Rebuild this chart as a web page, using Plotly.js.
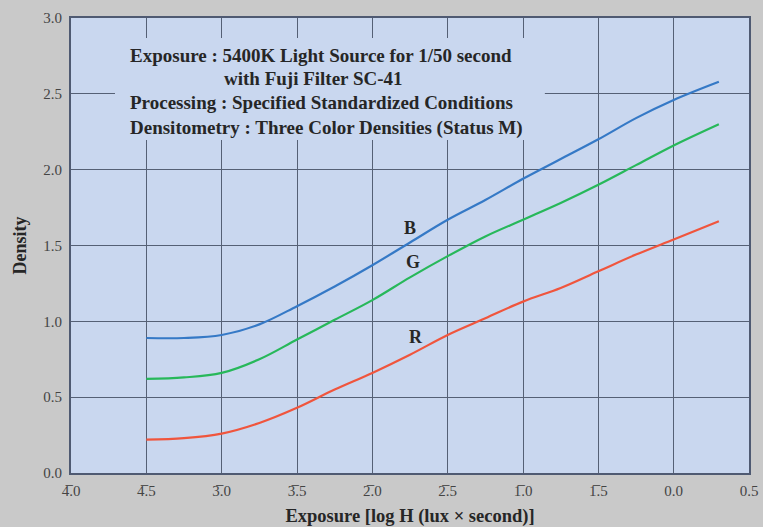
<!DOCTYPE html>
<html>
<head>
<meta charset="utf-8">
<script src="https://cdn.plot.ly/plotly-3.0.1.min.js"></script>
<style>html,body{margin:0;padding:0;background:#c9c9c9;}#chart{width:763px;height:527px;}</style>
</head>
<body>
<div id="chart"></div>
<script>
// log exposure (x) values
const logH = [-3.5, -3.25, -3.0, -2.75, -2.5, -2.25, -2.0, -1.75, -1.5, -1.25, -1.0, -0.75, -0.5, -0.25, 0.0, 0.3];
const densityB = [0.89, 0.89, 0.91, 0.98, 1.10, 1.23, 1.37, 1.52, 1.67, 1.80, 1.94, 2.07, 2.20, 2.34, 2.46, 2.58];
const densityG = [0.62, 0.63, 0.66, 0.75, 0.88, 1.01, 1.14, 1.29, 1.43, 1.56, 1.67, 1.78, 1.90, 2.03, 2.16, 2.30];
const densityR = [0.22, 0.23, 0.26, 0.33, 0.43, 0.55, 0.66, 0.78, 0.91, 1.02, 1.13, 1.22, 1.33, 1.44, 1.54, 1.66];

const xTickVals = [-4.0, -3.5, -3.0, -2.5, -2.0, -1.5, -1.0, -0.5, 0.0, 0.5];
const xTickText = ["4\u0305.0", "4\u0305.5", "3\u0305.0", "3\u0305.5", "2\u0305.0", "2\u0305.5", "1\u0305.0", "1\u0305.5", "0.0", "0.5"];
const yTickVals = [0.0, 0.5, 1.0, 1.5, 2.0, 2.5, 3.0];
const yTickText = ["0.0", "0.5", "1.0", "1.5", "2.0", "2.5", "3.0"];

const curveNames = ["B", "G", "R"];
const curveColors = ["#3579c6", "#27b85a", "#f0553d"];
const curveData = [densityB, densityG, densityR];

const serif = "Liberation Serif, Times New Roman, serif";
const plotBg = "#c9d7ef";

const traces = curveData.map((d, i) => ({
  x: logH, y: d, type: "scatter", mode: "lines", name: curveNames[i],
  line: {color: curveColors[i], width: 2.2, shape: "spline", smoothing: 1.0},
  hoverinfo: "skip"
}));

const noteLines = [
  {text: "Exposure : 5400K Light Source for 1/50 second", x: -3.62, y: 2.755},
  {text: "with Fuji Filter SC-41", x: -3.0, y: 2.60},
  {text: "Processing : Specified Standardized Conditions", x: -3.62, y: 2.445},
  {text: "Densitometry : Three Color Densities (Status M)", x: -3.62, y: 2.275}
];
const curveLabels = [
  {text: "B", x: -1.75, y: 1.615},
  {text: "G", x: -1.73, y: 1.39},
  {text: "R", x: -1.71, y: 0.90}
];

const annotations = [];
noteLines.forEach(n => annotations.push({
  x: n.x, y: n.y, xref: "x", yref: "y", text: n.text, showarrow: false,
  xanchor: "left", yanchor: "middle",
  font: {family: serif, size: 19, weight: "bold", color: "#262626"}
}));
curveLabels.forEach(n => annotations.push({
  x: n.x, y: n.y, xref: "x", yref: "y", text: n.text, showarrow: false,
  xanchor: "center", yanchor: "middle",
  font: {family: serif, size: 18, weight: "bold", color: "#262626"}
}));

const layout = {
  width: 763, height: 527,
  margin: {l: 71, r: 14, t: 18, b: 54},
  paper_bgcolor: "#c9c9c9",
  plot_bgcolor: plotBg,
  showlegend: false,
  font: {family: serif, size: 15, color: "#444"},
  xaxis: {
    range: [-4.0, 0.5], tickvals: xTickVals, ticktext: xTickText,
    showgrid: true, gridcolor: "#556075", gridwidth: 1,
    zeroline: false, showline: true, linecolor: "#4f5a72", linewidth: 2, mirror: true,
    ticks: "outside", ticklen: 3, tickcolor: "rgba(0,0,0,0)",
    tickfont: {family: serif, size: 15, color: "#444"},
    title: {text: "Exposure [log H (lux \u00d7 second)]", font: {family: serif, size: 18.5, weight: "bold", color: "#262626"}, standoff: 11}
  },
  yaxis: {
    range: [0, 3.0], tickvals: yTickVals, ticktext: yTickText,
    showgrid: true, gridcolor: "#556075", gridwidth: 1,
    zeroline: false, showline: true, linecolor: "#4f5a72", linewidth: 2, mirror: true,
    ticks: "outside", ticklen: 4, tickcolor: "rgba(0,0,0,0)",
    tickfont: {family: serif, size: 15, color: "#444"},
    title: {text: "Density", font: {family: serif, size: 18, weight: "bold", color: "#262626"}, standoff: 12}
  },
  shapes: [{
    type: "rect", xref: "x", yref: "y", layer: "between",
    x0: -3.708, x1: -0.855, y0: 2.195, y1: 2.868,
    fillcolor: plotBg, line: {width: 0}
  }],
  annotations: annotations
};

Plotly.newPlot("chart", traces, layout, {displayModeBar: false, staticPlot: true});
</script>
</body>
</html>
